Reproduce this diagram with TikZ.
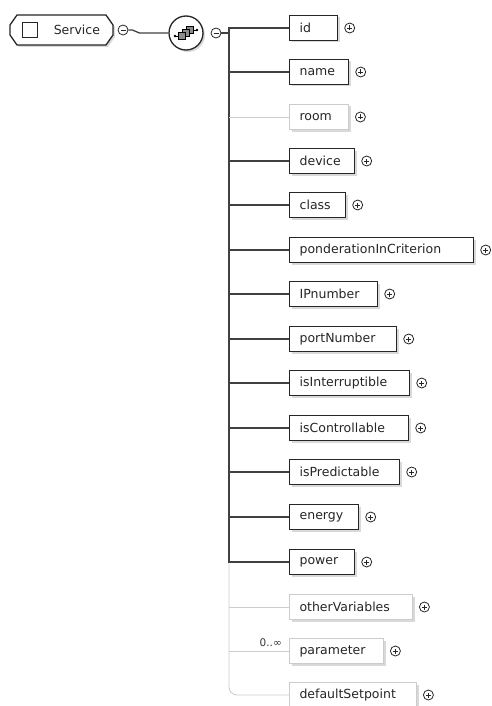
\documentclass[tikz,border=0pt]{standalone}
\usepackage{fontspec}
\setmainfont{DejaVu Sans}
\usepackage{tikz}
\usetikzlibrary{positioning,shadows,calc}

\newcommand{\elemfont}{\fontsize{12.5}{15}\selectfont}
\newcommand{\cardfont}{\fontsize{10.5}{13}\selectfont}

\begin{document}
\begin{tikzpicture}[
        x=1pt, y=-1pt,
        shade/.style={drop shadow={shadow xshift=2pt,shadow yshift=-2pt,opacity=.3}},
        elem/.style={rectangle,draw=black!85,line width=1.3pt,fill=white,shade,anchor=west,
          minimum height=25pt,inner xsep=10pt,text width=#1,align=left,font=\elemfont,text=black!85},
        optelem/.style={elem=#1,draw=black!20,line width=1pt},
        sign/.style={circle,draw=black!85,line width=0.8pt,fill=white,minimum size=10pt,inner sep=0pt},
        plus/.style={sign,path picture={
          \draw[line width=0.8pt] ([xshift=-2.5pt]path picture bounding box.center) -- ([xshift=2.5pt]path picture bounding box.center)
            ([yshift=-2.5pt]path picture bounding box.center) -- ([yshift=2.5pt]path picture bounding box.center);}},
        minus/.style={sign,path picture={
          \draw[line width=0.8pt] ([xshift=-2.5pt]path picture bounding box.center) -- ([xshift=2.5pt]path picture bounding box.center);}},
        branch/.style={draw=black!75,line width=2.6pt},
        optbranch/.style={draw=black!20,line width=0.9pt},
        card/.style={font=\cardfont,text=black!80,inner sep=1pt}
      ]
        \useasboundingbox (0,0) rectangle (491,706);
        % root element
        \coordinate (svc) at (61.5,30);
        \draw[draw=black!85,line width=1.3pt,fill=white,shade]
          ($(svc)+(-51.5,-5)$) -- ($(svc)+(-44.5,-15)$) -- ($(svc)+(44.5,-15)$) -- ($(svc)+(51.5,-5)$)
          -- ($(svc)+(51.5,5)$) -- ($(svc)+(44.5,15)$) -- ($(svc)+(-44.5,15)$) -- ($(svc)+(-51.5,5)$) -- cycle;
        \node[minimum width=103pt,minimum height=30pt,inner xsep=13pt,text width=77pt,align=right,
          font=\elemfont,text=black!85] (service) at (svc) {Service};
        \node[draw=black!85,line width=1pt,minimum size=15pt,inner sep=0pt] (check) at (30,30) {};
        \node[minus] (svcminus) at (123,30) {};
        \node[circle,draw=black!85,line width=1.3pt,fill=white,shade,minimum size=34pt,inner sep=0pt] (seq) at (186,33) {};
        \node[minus] (seqminus) at (216,33) {};
        % sequence icon
        \foreach \dx/\dy in {4/-3,0/0,-4/3}
          \draw[fill=black!45,line width=0.6pt] ($(seq.center)+(\dx-3.5,\dy-3.5)$) rectangle ++(7,7);
        \draw[line width=0.6pt] ($(seq.center)+(-11,3)$) -- ++(3.5,0) ($(seq.center)+(7.5,-3)$) -- ++(3.5,0);
        \fill ($(seq.center)+(-11,3)$) circle (1.3) ($(seq.center)+(11,-3)$) circle (1.3);
        % children
        \node[elem=28]     (id)              at (289,28)  {id};
        \node[elem=39]     (name)            at (289,72)  {name};
        \node[optelem=39]  (room)            at (289,117) {room};
        \node[elem=45]     (device)          at (289,161) {device};
        \node[elem=36]     (class)           at (289,205) {class};
        \node[elem=164]    (ponderation)     at (289,250) {ponderationInCriterion};
        \node[elem=68]     (IPnumber)        at (289,294) {IPnumber};
        \node[elem=87]     (portNumber)      at (289,339) {portNumber};
        \node[elem=100]    (isInterruptible) at (289,383) {isInterruptible};
        \node[elem=99]     (isControllable)  at (289,428) {isControllable};
        \node[elem=90]     (isPredictable)   at (289,472) {isPredictable};
        \node[elem=49]     (energy)          at (289,517) {energy};
        \node[elem=45]     (power)           at (289,562) {power};
        \node[optelem=103] (otherVariables)  at (289,607) {otherVariables};
        \node[optelem=74]  (parameter)       at (289,651) {parameter};
        \node[optelem=107] (defaultSetpoint) at (289,695) {defaultSetpoint};
        \node[card,anchor=south east] (card) at (283,648) {0..∞};
        \foreach \n in {id,name,room,device,class,ponderation,IPnumber,portNumber,isInterruptible,
            isControllable,isPredictable,energy,power,otherVariables,parameter,defaultSetpoint}
          \node[plus,right=6pt of \n] (\n-plus) {};
        % connectors
        \coordinate (top) at (229,28);
        \draw[draw=black!75,line width=1.3pt] (svcminus.east) -- ++(4,0)
          .. controls +(3,0) and +(-3,0) .. ++(7,3) -- (seq.west);
        \draw[draw=black!75,line width=1.3pt] (seqminus.east) -- (seqminus.east -| top);
        \draw[optbranch,rounded corners=8pt] (top |- power.west) |- (defaultSetpoint.west);
        \draw[branch] (id.west) -| (top |- power.west) -- (power.west);
        \foreach \n in {name,device,class,ponderation,IPnumber,portNumber,isInterruptible,
            isControllable,isPredictable,energy}
          \draw[branch] (top |- \n.west) -- (\n.west);
        \foreach \n in {room,otherVariables,parameter}
          \draw[optbranch] (top |- \n.west) -- (\n.west);
      \end{tikzpicture}
\end{document}
